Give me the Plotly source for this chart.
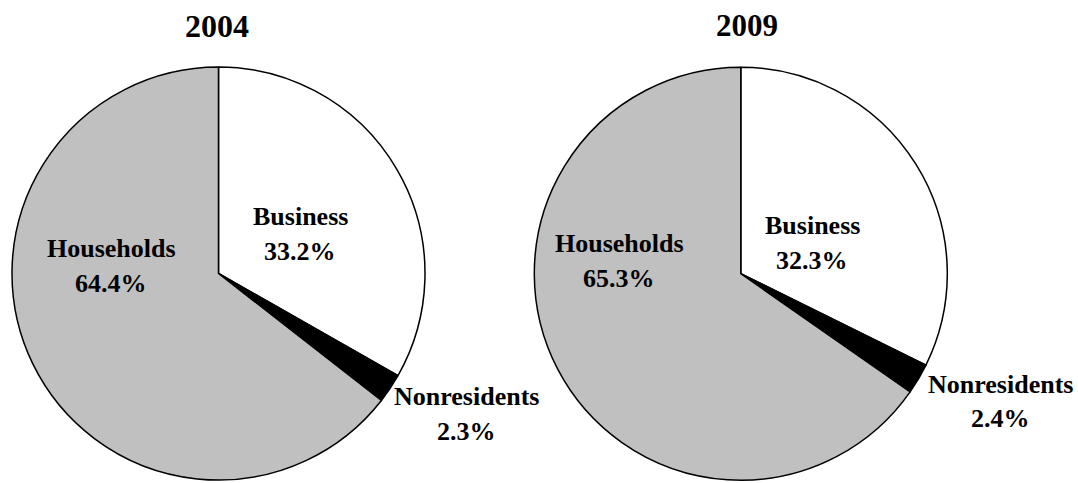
import plotly.graph_objects as go

W, H = 1078, 483

categories = ["Business", "Nonresidents", "Households"]
values_2004 = [33.2, 2.3, 64.4]
values_2009 = [32.3, 2.4, 65.3]
years = ["2004", "2009"]
slice_colors = ["#FFFFFF", "#000000", "#C0C0C0"]

# label text positions (pixel centers, baseline of each line)
label_pos_2004 = {"Business": (300, 225, 260), "Nonresidents": (466, 405, 440), "Households": (111, 257, 292)}
label_pos_2009 = {"Business": (812, 234, 269), "Nonresidents": (1000, 393, 427), "Households": (619, 252, 287)}

FONT = "Liberation Serif, Times New Roman, serif"


def px_domain(cx, cy, r):
    return dict(x=[(cx - r) / W, (cx + r) / W], y=[(H - (cy + r)) / H, (H - (cy - r)) / H])


fig = go.Figure()
pies = [(values_2004, (218.5, 273.5, 206.5)), (values_2009, (740.8, 273.7, 206.5))]
for vals, (cx, cy, r) in pies:
    fig.add_trace(go.Pie(
        labels=categories, values=vals, sort=False, direction="clockwise", rotation=0,
        marker=dict(colors=slice_colors, line=dict(color="#000000", width=1.5)),
        textinfo="none", hoverinfo="label+percent", domain=px_domain(cx, cy, r),
        showlegend=False,
    ))

annotations = []
FS = 26
for vals, pos in [(values_2004, label_pos_2004), (values_2009, label_pos_2009)]:
    for cat, v in zip(categories, vals):
        x, b1, b2 = pos[cat]
        for txt, b in [(cat, b1), (f"{v:.1f}%", b2)]:
            annotations.append(dict(
                text=txt, x=x / W, y=(H - (b - 0.33 * FS)) / H, xref="paper", yref="paper",
                xanchor="center", yanchor="middle", showarrow=False,
                font=dict(family=FONT, size=FS, color="#000000", weight="bold"),
            ))

for yr, x, fs in [(years[0], 217, 32), (years[1], 747, 31)]:
    annotations.append(dict(
        text=yr, x=x / W, y=(H - 26) / H, xref="paper", yref="paper",
        xanchor="center", yanchor="middle", showarrow=False,
        font=dict(family=FONT, size=fs, color="#000000", weight="bold"),
    ))

fig.update_layout(
    width=W, height=H, margin=dict(l=0, r=0, t=0, b=0),
    paper_bgcolor="#FFFFFF", plot_bgcolor="#FFFFFF",
    annotations=annotations,
)

fig.write_html(
    "out.html",
    config={"displayModeBar": False},
    post_script="document.body.style.margin='0';document.body.style.padding='0';document.body.style.overflow='hidden';",
)
